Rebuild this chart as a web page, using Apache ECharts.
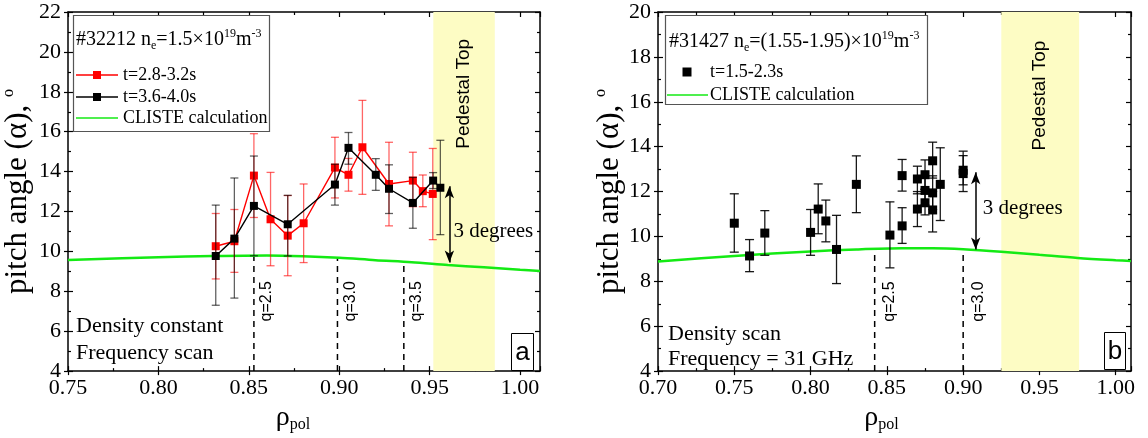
<!DOCTYPE html>
<html>
<head>
<meta charset="utf-8">
<script src="https://cdn.jsdelivr.net/npm/echarts@6/dist/echarts.min.js"></script>
<style>
  html, body { margin: 0; padding: 0; background: #fff; }
  #chart { width: 1148px; height: 438px; }
</style>
</head>
<body>
<div id="chart"></div>
<script>
// ---------- Panel (a): #32212, density constant, frequency scan ----------
const rhoRedA   = [0.8317, 0.8420, 0.8528, 0.8620, 0.8715, 0.8803, 0.8976, 0.9051, 0.9128, 0.9275, 0.9407, 0.9462, 0.9517];
const pitchRedA = [10.26, 10.51, 13.80, 11.61, 10.79, 11.41, 14.20, 13.84, 15.22, 13.38, 13.55, 13.02, 12.88];
const loRedA    = [8.62, 8.95, 11.70, 9.28, 8.78, 9.44, 12.68, 13.02, 12.86, 11.28, 12.24, 12.24, 10.59];
const hiRedA    = [11.90, 12.10, 15.90, 13.96, 12.80, 13.38, 15.72, 14.66, 17.57, 15.47, 14.97, 13.83, 15.16];

const rhoBlkA   = [0.8317, 0.8420, 0.8528, 0.8715, 0.8976, 0.9051, 0.9202, 0.9275, 0.9407, 0.9519, 0.9559];
const pitchBlkA = [9.77, 10.64, 12.28, 11.36, 13.35, 15.19, 13.84, 13.14, 12.43, 13.55, 13.19];
const loBlkA    = [7.30, 7.66, 9.78, 9.77, 12.32, 14.37, 13.06, 11.90, 11.16, 13.15, 10.84];
const hiBlkA    = [12.32, 13.68, 14.78, 12.81, 14.37, 15.96, 14.65, 14.34, 13.71, 13.95, 15.57];

const rhoCalcA   = [0.75, 0.78, 0.80, 0.83, 0.86, 0.88, 0.90, 0.92, 0.94, 0.96, 0.98, 1.00, 1.011];
const pitchCalcA = [9.57, 9.66, 9.71, 9.77, 9.80, 9.76, 9.68, 9.56, 9.46, 9.32, 9.20, 9.08, 9.02];

const qRhoA   = [0.8528, 0.8990, 0.9357];
const qCalcA  = [9.79, 9.68, 9.49];
const qNamesA = ['q=2.5', 'q=3.0', 'q=3.5'];
const pedestalA = [0.952, 0.986];
const arrowRhoA = 0.9609;
const arrowSpanA = [9.44, 13.26];

// ---------- Panel (b): #31427, density scan, 31 GHz ----------
const rhoB   = [0.750, 0.760, 0.770, 0.800, 0.805, 0.810, 0.817, 0.830, 0.852, 0.860, 0.860, 0.870, 0.870, 0.875, 0.875, 0.875, 0.880, 0.880, 0.880, 0.885, 0.900, 0.900];
const pitchB = [10.59, 9.13, 10.15, 10.18, 11.22, 10.69, 9.42, 12.32, 10.06, 10.47, 12.71, 12.56, 11.22, 12.75, 12.05, 11.50, 13.37, 11.94, 11.18, 12.32, 12.95, 12.80];
const loB    = [9.30, 8.43, 9.16, 9.16, 10.12, 9.76, 7.90, 11.06, 8.60, 9.69, 12.02, 11.90, 10.44, 12.10, 11.40, 10.96, 12.60, 11.20, 10.20, 10.71, 12.30, 12.00];
const hiB    = [11.90, 9.86, 11.15, 11.20, 12.34, 11.62, 10.94, 13.59, 11.54, 11.28, 13.43, 13.13, 12.00, 13.41, 12.70, 12.10, 14.20, 12.70, 12.00, 13.95, 13.80, 13.60];

const rhoCalcB   = [0.70, 0.75, 0.80, 0.83, 0.86, 0.88, 0.90, 0.925, 0.95, 0.975, 1.00, 1.01];
const pitchCalcB = [8.88, 9.13, 9.33, 9.42, 9.47, 9.47, 9.43, 9.32, 9.18, 9.04, 8.94, 8.91];

const qRhoB   = [0.842, 0.900];
const qCalcB  = [9.45, 9.43];
const qNamesB = ['q=2.5', 'q=3.0'];
const pedestalB = [0.925, 0.976];
const arrowRhoB = 0.9082;
const arrowSpanB = [9.42, 12.86];

// ---------- legend / annotation texts ----------
const legendA = ['t=2.8-3.2s', 't=3.6-4.0s', 'CLISTE calculation'];
const legendB = ['t=1.5-2.3s', 'CLISTE calculation'];

const SERIF = 'Liberation Serif';
const SANS = 'Liberation Sans';
const GREEN = '#14ea14';

const zip = (a, b) => a.map((v, i) => [v, b[i]]);
const zip3 = (a, b, c) => a.map((v, i) => [v, b[i], c[i]]);

function xAxesFor(g, min, max, namePad) {
  const base = { type: 'value', gridIndex: g, min: min, max: max, interval: 0.05, splitLine: { show: false } };
  const tickStyle = { color: '#000', width: 1.2 };
  return [
    Object.assign({}, base, {
      position: 'bottom',
      axisLine: { onZero: false, lineStyle: { color: '#000', width: 1.5 } },
      axisTick: { show: true, inside: false, length: 4, lineStyle: tickStyle },
      minorTick: { show: false },
      axisLabel: { show: true, margin: 6, color: '#000', fontFamily: SERIF, fontSize: 22,
                   formatter: v => v.toFixed(2), showMaxLabel: false },
      name: '{r|ρ}{s|pol}', nameLocation: 'middle', nameGap: 27,
      nameTextStyle: { padding: [0, namePad, 0, 0], rich: {
        r: { fontFamily: SERIF, fontSize: 28, color: '#000', lineHeight: 30 },
        s: { fontFamily: SERIF, fontSize: 16, color: '#000', verticalAlign: 'bottom', lineHeight: 14, padding: [10, 0, 0, 0] }
      } }
    }),
    Object.assign({}, base, {
      position: 'bottom',
      axisLine: { show: false, onZero: false },
      axisLabel: { show: false },
      axisTick: { show: true, inside: true, length: 5, lineStyle: tickStyle },
      minorTick: { show: true, splitNumber: 2, length: 3, lineStyle: tickStyle }
    }),
    Object.assign({}, base, {
      position: 'top',
      axisLine: { show: true, onZero: false, lineStyle: { color: '#000', width: 1.5 } },
      axisLabel: { show: false },
      axisTick: { show: true, inside: true, length: 5, lineStyle: tickStyle },
      minorTick: { show: true, splitNumber: 2, length: 3, lineStyle: tickStyle }
    })
  ];
}

function yAxesFor(g, min, max, gap) {
  const base = { type: 'value', gridIndex: g, min: min, max: max, interval: 2, splitLine: { show: false } };
  const tickStyle = { color: '#000', width: 1.2 };
  return [
    Object.assign({}, base, {
      position: 'left',
      axisLine: { show: true, onZero: false, lineStyle: { color: '#000', width: 1.5 } },
      axisTick: { show: true, inside: false, length: 4, lineStyle: tickStyle },
      minorTick: { show: false },
      axisLabel: { show: true, margin: 7, color: '#000', fontFamily: SERIF, fontSize: 22 },
      name: '{a|pitch angle (α), }{s|o}', nameLocation: 'middle', nameGap: gap,
      nameTextStyle: { rich: {
        a: { fontFamily: SERIF, fontSize: 31, color: '#000', lineHeight: 34 },
        s: { fontFamily: SERIF, fontSize: 16, color: '#000', verticalAlign: 'top', lineHeight: 14 }
      } }
    }),
    Object.assign({}, base, {
      position: 'left',
      axisLine: { show: false, onZero: false },
      axisLabel: { show: false },
      axisTick: { show: true, inside: true, length: 5, lineStyle: tickStyle },
      minorTick: { show: true, splitNumber: 2, length: 3, lineStyle: tickStyle }
    }),
    Object.assign({}, base, {
      position: 'right',
      axisLine: { show: true, onZero: false, lineStyle: { color: '#000', width: 1.5 } },
      axisLabel: { show: false },
      axisTick: { show: true, inside: true, length: 5, lineStyle: tickStyle },
      minorTick: { show: true, splitNumber: 2, length: 3, lineStyle: tickStyle }
    })
  ];
}

// vertical error bar with caps
function errorBars(color, capW, lw) {
  return function (params, api) {
    const x = api.value(0);
    const p1 = api.coord([x, api.value(1)]);
    const p2 = api.coord([x, api.value(2)]);
    const h = capW / 2;
    const st = { stroke: color, lineWidth: lw };
    return { type: 'group', children: [
      { type: 'line', shape: { x1: p1[0], y1: p1[1], x2: p2[0], y2: p2[1] }, style: st },
      { type: 'line', shape: { x1: p1[0] - h, y1: p1[1], x2: p1[0] + h, y2: p1[1] }, style: st },
      { type: 'line', shape: { x1: p2[0] - h, y1: p2[1], x2: p2[0] + h, y2: p2[1] }, style: st }
    ] };
  };
}

// dashed rational-surface line from the axis floor up to the calculated curve
function qLines(params, api) {
  const x = api.value(0);
  const p1 = api.coord([x, 4]);
  const p2 = api.coord([x, api.value(1)]);
  return { type: 'line', shape: { x1: p1[0], y1: p1[1], x2: p2[0], y2: p2[1] },
           style: { stroke: '#000', lineWidth: 1.5, lineDash: [6, 5] } };
}

function panelSeries(g, p) {
  const xi = g * 3, yi = g * 3;
  return [
    { type: 'line', xAxisIndex: xi, yAxisIndex: yi, data: [], silent: true, z: 0,
      markArea: { silent: true, itemStyle: { color: '#fdfcc4' },
                  data: [[{ xAxis: p.ped[0] }, { xAxis: p.ped[1] }]] } },
    { type: 'line', xAxisIndex: xi, yAxisIndex: yi, data: zip(p.calcX, p.calcY),
      smooth: 0.3, showSymbol: false, lineStyle: { color: GREEN, width: 2.5 }, z: 3, silent: true,
      markLine: { silent: true, symbol: ['arrow', 'arrow'], symbolSize: [7, 12], label: { show: false },
                  lineStyle: { color: '#000', width: 1.5, type: 'solid' },
                  data: [[{ coord: [p.arrowX, p.arrowSpan[1]] }, { coord: [p.arrowX, p.arrowSpan[0]] }]] } },
    { type: 'custom', xAxisIndex: xi, yAxisIndex: yi, renderItem: qLines,
      data: zip(p.qX, p.qY), encode: { x: 0, y: 1 }, z: 2, silent: true }
  ];
}

const option = {
  animation: false,
  backgroundColor: '#fff',
  grid: [
    { left: 66, top: 12, width: 474, height: 365 },
    { left: 658, top: 12, width: 473, height: 365 }
  ],
  xAxis: [].concat(xAxesFor(0, 0.75, 1.011, 22), xAxesFor(1, 0.70, 1.01, 26)),
  yAxis: [].concat(yAxesFor(0, 4, 22, 33), yAxesFor(1, 4, 20, 27)),
  series: [].concat(
    panelSeries(0, { ped: pedestalA, calcX: rhoCalcA, calcY: pitchCalcA, qX: qRhoA, qY: qCalcA,
                     arrowX: arrowRhoA, arrowSpan: arrowSpanA }),
    [
      { type: 'custom', xAxisIndex: 0, yAxisIndex: 0, renderItem: errorBars('rgba(255,0,0,0.6)', 8, 1.3),
        data: zip3(rhoRedA, loRedA, hiRedA), encode: { x: 0, y: [1, 2] }, z: 4, silent: true },
      { type: 'line', xAxisIndex: 0, yAxisIndex: 0, data: zip(rhoRedA, pitchRedA),
        symbol: 'rect', symbolSize: 8, itemStyle: { color: '#ff0000' },
        lineStyle: { color: '#ff0000', width: 1.4 }, z: 5, silent: true },
      { type: 'custom', xAxisIndex: 0, yAxisIndex: 0, renderItem: errorBars('rgba(0,0,0,0.62)', 8, 1.3),
        data: zip3(rhoBlkA, loBlkA, hiBlkA), encode: { x: 0, y: [1, 2] }, z: 6, silent: true },
      { type: 'line', xAxisIndex: 0, yAxisIndex: 0, data: zip(rhoBlkA, pitchBlkA),
        symbol: 'rect', symbolSize: 8, itemStyle: { color: '#000' },
        lineStyle: { color: '#000', width: 1.4 }, z: 7, silent: true }
    ],
    panelSeries(1, { ped: pedestalB, calcX: rhoCalcB, calcY: pitchCalcB, qX: qRhoB, qY: qCalcB,
                     arrowX: arrowRhoB, arrowSpan: arrowSpanB }),
    [
      { type: 'custom', xAxisIndex: 3, yAxisIndex: 3, renderItem: errorBars('rgba(0,0,0,0.9)', 9, 1.3),
        data: zip3(rhoB, loB, hiB), encode: { x: 0, y: [1, 2] }, z: 6, silent: true },
      { type: 'scatter', xAxisIndex: 3, yAxisIndex: 3, data: zip(rhoB, pitchB),
        symbol: 'rect', symbolSize: 9, itemStyle: { color: '#000', opacity: 1 }, z: 7, silent: true }
    ]
  )
};

const chart = echarts.init(document.getElementById('chart'), null, { renderer: 'canvas' });
chart.setOption(option);

// ---------- annotations placed through the axes ----------
const pxA = v => chart.convertToPixel({ xAxisIndex: 0, yAxisIndex: 0 }, v);
const pxB = v => chart.convertToPixel({ xAxisIndex: 3, yAxisIndex: 3 }, v);

function txt(x, y, text, font, size, align) {
  return { type: 'text', x: x, y: y, z: 100,
           style: { text: text, fontFamily: font, fontSize: size, fill: '#000',
                    align: align || 'left', verticalAlign: 'middle' } };
}
function rotTxt(x, y, text, size) {
  return { type: 'text', x: x, y: y, rotation: Math.PI / 2, z: 100,
           style: { text: text, fontFamily: SANS, fontSize: size, fill: '#000', align: 'center', verticalAlign: 'middle' } };
}

const g = [];

// panel (a) annotations
let p = pxA([(pedestalA[0] + pedestalA[1]) / 2, 17.9]);
g.push(rotTxt(p[0], p[1], 'Pedestal Top', 19));
qRhoA.forEach((q, i) => { const c = pxA([q, 7.5]); g.push(rotTxt(c[0] + 13, c[1], qNamesA[i], 16)); });
p = pxA([arrowRhoA, 11.0]);
g.push(txt(p[0] + 4, p[1], '3 degrees', SERIF, 21));
g.push(txt(76, 326, 'Density constant', SERIF, 22));
g.push(txt(76, 353, 'Frequency scan', SERIF, 22));
g.push({ type: 'rect', z: 100, shape: { x: 511.5, y: 333.5, width: 22, height: 37 },
         style: { fill: '#fff', stroke: '#000', lineWidth: 1 } });
g.push(txt(522.5, 353, 'a', SANS, 26, 'center'));

// panel (b) annotations
p = pxB([(pedestalB[0] + pedestalB[1]) / 2, 16.28]);
g.push(rotTxt(p[0], p[1], 'Pedestal Top', 19));
qRhoB.forEach((q, i) => { const c = pxB([q, 7.1]); g.push(rotTxt(c[0] + 15, c[1], qNamesB[i], 16)); });
p = pxB([arrowRhoB, 11.25]);
g.push(txt(p[0] + 7, p[1], '3 degrees', SERIF, 21));
g.push(txt(668, 334, 'Density scan', SERIF, 22));
g.push(txt(668, 359, 'Frequency = 31 GHz', SERIF, 22));
g.push({ type: 'rect', z: 100, shape: { x: 1104.5, y: 332.5, width: 21, height: 37 },
         style: { fill: '#fff', stroke: '#000', lineWidth: 1 } });
g.push(txt(1115, 352, 'b', SANS, 26, 'center'));

// legend boxes
const titleRich = size => ({
  m: { fontFamily: SERIF, fontSize: size, fill: '#000', lineHeight: 24 },
  b: { fontFamily: SERIF, fontSize: Math.round(size * 0.6), fill: '#000', verticalAlign: 'bottom', lineHeight: 10 },
  t: { fontFamily: SERIF, fontSize: Math.round(size * 0.6), fill: '#000', verticalAlign: 'top', lineHeight: 10 }
});

g.push({ type: 'rect', z: 90, shape: { x: 73.5, y: 15.5, width: 196, height: 116 },
         style: { fill: '#fff', stroke: '#555', lineWidth: 1.2 } });
g.push({ type: 'text', z: 100, x: 76, y: 40,
         style: { text: '{m|#32212 n}{b|e}{m|=1.5×10}{t|19}{m|m}{t|-3}', rich: titleRich(20),
                  align: 'left', verticalAlign: 'middle' } });
[[legendA[0], '#ff0000', 75], [legendA[1], '#000', 97]].forEach(([label, col, y]) => {
  g.push({ type: 'line', z: 100, shape: { x1: 76, y1: y, x2: 118, y2: y }, style: { stroke: col, lineWidth: 1.4 } });
  g.push({ type: 'rect', z: 101, shape: { x: 93, y: y - 4, width: 8, height: 8 }, style: { fill: col } });
  g.push(txt(123, y, label, SERIF, 18));
});
g.push({ type: 'line', z: 100, shape: { x1: 76, y1: 118, x2: 118, y2: 118 }, style: { stroke: GREEN, lineWidth: 1.5 } });
g.push(txt(123, 118, legendA[2], SERIF, 18));

g.push({ type: 'rect', z: 90, shape: { x: 665.5, y: 15.5, width: 262, height: 89 },
         style: { fill: '#fff', stroke: '#555', lineWidth: 1.2 } });
g.push({ type: 'text', z: 100, x: 669, y: 42,
         style: { text: '{m|#31427 n}{b|e}{m|=(1.55-1.95)×10}{t|19}{m|m}{t|-3}', rich: titleRich(20),
                  align: 'left', verticalAlign: 'middle' } });
g.push({ type: 'rect', z: 101, shape: { x: 682.5, y: 67.5, width: 9, height: 9 }, style: { fill: '#000' } });
g.push(txt(710, 72, legendB[0], SERIF, 18));
g.push({ type: 'line', z: 100, shape: { x1: 667, y1: 95, x2: 708, y2: 95 }, style: { stroke: GREEN, lineWidth: 1.5 } });
g.push(txt(710, 95, legendB[1], SERIF, 18));

chart.setOption({ graphic: g });
</script>
</body>
</html>
